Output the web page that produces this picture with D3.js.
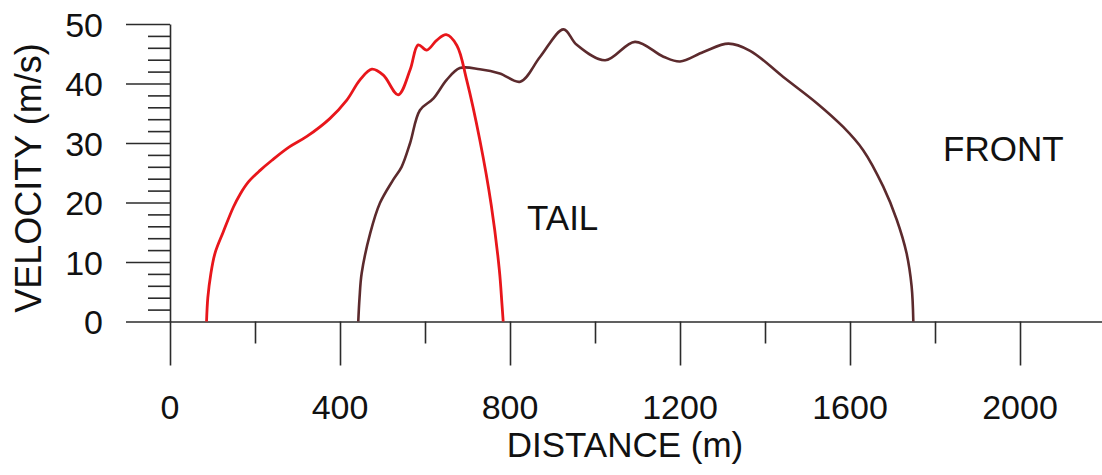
<!DOCTYPE html>
<html>
<head>
<meta charset="utf-8">
<script src="https://cdn.jsdelivr.net/npm/d3@7"></script>
<style>
  body { margin: 0; background: #fff; }
  text { font-family: 'Liberation Sans', Arial, sans-serif; fill: #111; }
</style>
</head>
<body>
<div id="chart"></div>
<script>
// tail of the flow (red)
const tailDist = [86, 89, 96, 106, 125, 149, 165, 185, 212, 240, 280, 322, 376, 416, 447, 475, 502, 537, 565, 584, 604, 628, 650, 675, 698, 729, 756, 775, 781, 784];
const tailVel  = [0, 4, 8, 11.5, 15, 19.2, 21.4, 23.5, 25.4, 27.1, 29.3, 31.1, 34.1, 37.2, 40.6, 42.4, 41.4, 38.1, 42.3, 46.5, 45.6, 47.3, 48.2, 46.4, 40.6, 30.5, 19.5, 8.6, 3, 0];
// front of the flow (brown)
const frontDist = [443, 446, 451, 471, 494, 525, 545, 565, 588, 620, 651, 682, 729, 776, 824, 871, 926, 957, 1024, 1094, 1161, 1200, 1255, 1314, 1365, 1443, 1522, 1584, 1631, 1678, 1710, 1733, 1745, 1749];
const frontVel  = [0, 4, 8.1, 14.8, 19.9, 23.8, 26, 30, 35.5, 37.5, 40.6, 42.6, 42.4, 41.7, 40.3, 44.5, 49.1, 46.5, 43.9, 47, 44.5, 43.7, 45.3, 46.7, 45.5, 41.1, 36.7, 32.7, 28.8, 22.7, 17.1, 11.5, 5.9, 0];

const xMajor = [0, 400, 800, 1200, 1600, 2000];
const xMinor = [200, 600, 1000, 1400, 1800];
const yMajor = [0, 10, 20, 30, 40, 50];
const yMinor = [2, 4, 6, 8, 12, 14, 16, 18, 22, 24, 26, 28, 32, 34, 36, 38, 42, 44, 46, 48];

const labels = [
  {text: 'TAIL', d: 840, v: 15.4},
  {text: 'FRONT', d: 1819, v: 26.9}
];

const width = 1102, height = 475;
const axisColor = '#2b2b2b';

const svg = d3.select('#chart')
  .append('svg')
  .attr('width', width)
  .attr('height', height);

const x = d3.scaleLinear().domain([0, 2200]).range([170, 1105]);
const y = d3.scaleLinear().domain([0, 50]).range([321.5, 24]);

// AXES
// x axis, major ticks long, minor short
const gx = svg.append('g').attr('transform', `translate(0,${y(0)})`);
gx.call(d3.axisBottom(x).tickValues(xMajor).tickSize(44).tickSizeOuter(0).tickFormat(''));
gx.append('g').call(d3.axisBottom(x).tickValues(xMinor).tickSize(22).tickFormat(''))
  .select('.domain').remove();

// y axis ticks to the left
const gy = svg.append('g').attr('transform', `translate(${x(0)},0)`);
gy.call(d3.axisLeft(y).tickValues(yMajor).tickSize(44).tickSizeOuter(0).tickFormat(''));
gy.append('g').call(d3.axisLeft(y).tickValues(yMinor).tickSize(22).tickFormat(''))
  .select('.domain').remove();

svg.selectAll('.domain, .tick line')
  .attr('stroke', axisColor)
  .attr('stroke-width', 1.6);

// tick labels
svg.append('g').selectAll('text')
  .data(xMajor)
  .join('text')
  .attr('x', d => x(d))
  .attr('y', 419)
  .attr('text-anchor', 'middle')
  .style('font-size', '34px')
  .text(d => d);

svg.append('g').selectAll('text')
  .data(yMajor)
  .join('text')
  .attr('x', 103)
  .attr('y', d => y(d) + 12.5)
  .attr('text-anchor', 'end')
  .style('font-size', '34px')
  .text(d => d);

// axis titles
svg.append('text')
  .attr('x', 625)
  .attr('y', 457)
  .attr('text-anchor', 'middle')
  .style('font-size', '35px')
  .text('DISTANCE (m)');

svg.append('text')
  .attr('transform', 'translate(41,178) rotate(-90)')
  .attr('text-anchor', 'middle')
  .style('font-size', '36px')
  .text('VELOCITY (m/s)');

// CURVES
// catmull-rom keeps the curves smooth like the scanned original
const line = d3.line()
  .x(d => x(d[0]))
  .y(d => y(d[1]))
  .curve(d3.curveCatmullRom.alpha(0.5));

svg.append('path')
  .datum(d3.zip(frontDist, frontVel))
  .attr('d', line)
  .attr('fill', 'none')
  .attr('stroke', '#5c2a2d')
  .attr('stroke-width', 2.6);

svg.append('path')
  .datum(d3.zip(tailDist, tailVel))
  .attr('d', line)
  .attr('fill', 'none')
  .attr('stroke', '#e8161b')
  .attr('stroke-width', 2.8);

// annotations
svg.append('g').selectAll('text')
  .data(labels)
  .join('text')
  .attr('x', d => x(d.d))
  .attr('y', d => y(d.v))
  .style('font-size', '35px')
  .text(d => d.text);
</script>
</body>
</html>
